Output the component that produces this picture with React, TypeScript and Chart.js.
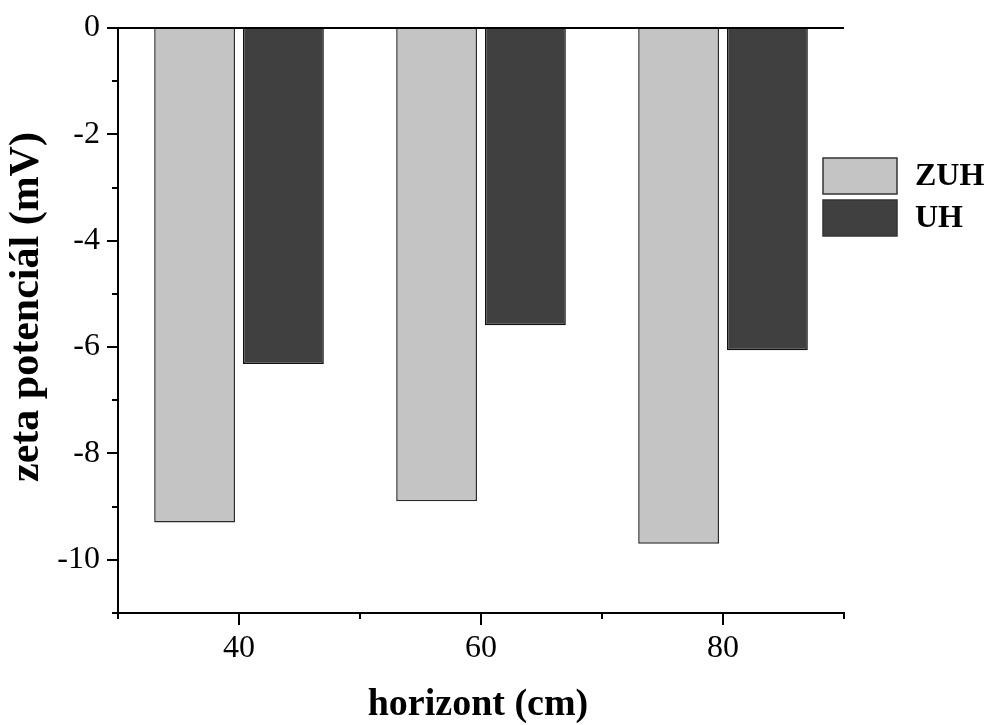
import React, { useEffect, useRef } from "react";
import { Chart, registerables } from "chart.js";

Chart.register(...registerables);

const categories = [40, 60, 80];
const zuhValues = [-9.3, -8.9, -9.7];
const uhValues = [-6.32, -5.59, -6.06];
const seriesLabels = ["ZUH", "UH"];
const xLabeled = [40, 60, 80];
const yTitle = "zeta potenciál (mV)";
const xTitle = "horizont (cm)";

const SERIF = "'Liberation Serif', 'Times New Roman', serif";

const decorPlugin = {
  id: "decor",
  afterDraw(chart: any) {
    const ctx = chart.ctx;
    const xs = chart.scales.x;
    const ys = chart.scales.y;
    ctx.save();
    ctx.strokeStyle = "#000";
    ctx.lineWidth = 2;
    // y ticks
    ys.ticks.forEach((t: any) => {
      const v = t.value;
      const py = Math.round(ys.getPixelForValue(v));
      const len = v % 2 === 0 ? 11 : 6;
      ctx.beginPath();
      ctx.moveTo(xs.left - len, py);
      ctx.lineTo(xs.left, py);
      ctx.stroke();
    });
    // x ticks
    xs.ticks.forEach((t: any) => {
      const v = t.value;
      const px = Math.round(xs.getPixelForValue(v));
      const len = xLabeled.includes(v) ? 12 : 6;
      ctx.beginPath();
      ctx.moveTo(px, ys.bottom);
      ctx.lineTo(px, ys.bottom + len);
      ctx.stroke();
    });
    // axis titles
    ctx.fillStyle = "#000";
    ctx.textAlign = "center";
    ctx.textBaseline = "middle";
    ctx.font = `bold 38px ${SERIF}`;
    ctx.fillText(xTitle, 478, 705);
    ctx.save();
    ctx.translate(27, 307);
    ctx.rotate(-Math.PI / 2);
    ctx.font = `bold 42px ${SERIF}`;
    ctx.fillText(yTitle, 0, 0);
    ctx.restore();
    // legend
    const boxX = 823, boxW = 74, boxH = 36;
    const tops = [158, 200];
    chart.data.datasets.forEach((ds: any, i: number) => {
      const top = tops[i];
      ctx.fillStyle = ds.backgroundColor;
      ctx.fillRect(boxX, top, boxW, boxH);
      ctx.lineWidth = 1.5;
      ctx.strokeStyle = "#333";
      ctx.strokeRect(boxX, top, boxW, boxH);
      ctx.fillStyle = "#000";
      ctx.textAlign = "left";
      ctx.textBaseline = "middle";
      ctx.font = `bold 32px ${SERIF}`;
      ctx.fillText(ds.label, 915, top + boxH / 2 + 1);
    });
    ctx.restore();
  },
};

export default function App() {
  const ref = useRef<HTMLCanvasElement | null>(null);
  useEffect(() => {
    if (!ref.current) return;
    const chart = new Chart(ref.current, {
      type: "bar",
      data: {
        datasets: [
          {
            label: seriesLabels[0],
            data: categories.map((c, i) => ({ x: c, y: zuhValues[i] })),
            backgroundColor: "#c4c4c4",
            borderColor: "#2a2a2a",
            borderWidth: 1.5,
          },
          {
            label: seriesLabels[1],
            data: categories.map((c, i) => ({ x: c, y: uhValues[i] })),
            backgroundColor: "#404040",
            borderColor: "#111",
            borderWidth: 1.5,
          },
        ],
      },
      options: {
        animation: false,
        responsive: false,
        maintainAspectRatio: false,
        categoryPercentage: 1.468,
        barPercentage: 0.91,
        layout: { padding: { left: 0, top: 28, right: 142, bottom: 0 } },
        plugins: { legend: { display: false }, tooltip: { enabled: false } },
        scales: {
          x: {
            type: "linear",
            min: 30,
            max: 90,
            offset: false,
            ticks: {
              stepSize: 10,
              padding: 16,
              color: "#000",
              font: { family: SERIF, size: 32 },
              maxRotation: 0,
              autoSkip: false,
              callback: (v: any) => (xLabeled.includes(Number(v)) ? String(v) : ""),
            },
            grid: { display: false, drawTicks: false },
            border: { display: true, color: "#000", width: 2 },
            afterFit: (s: any) => {
              s.height = 112;
              s.paddingLeft = 0;
              s.paddingRight = 0;
              s.paddingTop = 0;
              s.paddingBottom = 0;
            },
          },
          y: {
            min: -11,
            max: 0,
            ticks: {
              stepSize: 1,
              padding: 18,
              color: "#000",
              font: { family: SERIF, size: 32 },
              autoSkip: false,
              callback: (v: any) => (Number(v) % 2 === 0 ? String(v) : ""),
            },
            grid: {
              drawTicks: false,
              lineWidth: 2,
              color: (c: any) => (c.tick && c.tick.value === 0 ? "#000" : "rgba(0,0,0,0)"),
            },
            border: { display: true, color: "#000", width: 2 },
            afterFit: (s: any) => {
              s.width = 118;
              s.paddingLeft = 0;
              s.paddingRight = 0;
              s.paddingTop = 0;
              s.paddingBottom = 0;
            },
          },
        },
      },
      plugins: [decorPlugin],
    } as any);
    return () => chart.destroy();
  }, []);
  return (
    <div style={{ position: "absolute", left: 0, top: 0, width: 986, height: 725, background: "#fff" }}>
      <canvas ref={ref} width={986} height={725} style={{ display: "block" }} />
    </div>
  );
}
